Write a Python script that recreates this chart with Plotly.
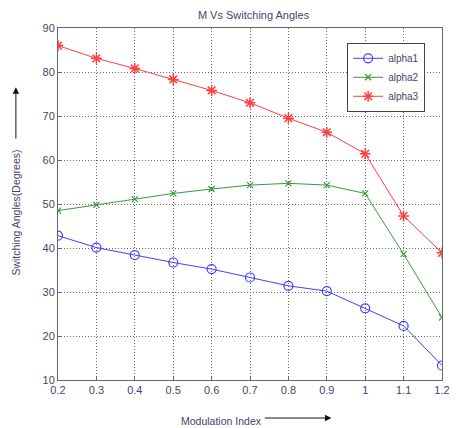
import plotly.graph_objects as go

# Modulation index values and the three switching angles (degrees)
modulation_index = [0.2, 0.3, 0.4, 0.5, 0.6, 0.7, 0.8, 0.9, 1.0, 1.1, 1.2]
alpha1 = [42.8, 40.1, 38.4, 36.7, 35.2, 33.3, 31.4, 30.2, 26.3, 22.3, 13.3]
alpha2 = [48.5, 49.8, 51.1, 52.4, 53.4, 54.3, 54.7, 54.3, 52.4, 38.6, 24.2]
alpha3 = [86.0, 83.1, 80.8, 78.3, 75.8, 73.0, 69.5, 66.3, 61.4, 47.3, 38.9]

x_tick_vals = [0.2, 0.3, 0.4, 0.5, 0.6, 0.7, 0.8, 0.9, 1.0, 1.1, 1.2]
x_tick_text = ["0.2", "0.3", "0.4", "0.5", "0.6", "0.7", "0.8", "0.9", "1", "1.1", "1.2"]
y_tick_vals = [10, 20, 30, 40, 50, 60, 70, 80, 90]

FONT = "Liberation Sans, Arial, sans-serif"
TEXT_COLOR = "#4a3f6b"

fig = go.Figure()
fig.add_trace(go.Scatter(
    x=modulation_index, y=alpha1, name="alpha1", mode="lines+markers",
    line=dict(color="#4040ff", width=1),
    marker=dict(symbol="circle-open", size=9, color="#4040ff", line=dict(width=1.2)),
))
fig.add_trace(go.Scatter(
    x=modulation_index, y=alpha2, name="alpha2", mode="lines+markers",
    line=dict(color="#3a9a3a", width=1),
    marker=dict(symbol="x-thin-open", size=6, color="#3a9a3a", line=dict(width=1.2, color="#3a9a3a")),
))
fig.add_trace(go.Scatter(
    x=modulation_index, y=alpha3, name="alpha3", mode="lines+markers",
    line=dict(color="#ff4040", width=1),
    marker=dict(symbol="asterisk-open", size=9, color="#ff4040", line=dict(width=1.5, color="#ff4040")),
))

axis_common = dict(
    showgrid=True, gridcolor="#666666", griddash="1px,2px", gridwidth=1,
    showline=True, linecolor="#666666", linewidth=1, mirror=True,
    ticks="inside", ticklen=4, tickcolor="#666666",
    zeroline=False, ticklabeloverflow="allow",
    tickfont=dict(family=FONT, size=11, color=TEXT_COLOR),
)

fig.update_layout(
    width=456, height=428,
    margin=dict(l=58, r=6, t=28, b=48),
    paper_bgcolor="white", plot_bgcolor="white",
    showlegend=True,
    legend=dict(
        x=0.753, y=0.958, xanchor="left", yanchor="top",
        bgcolor="white", bordercolor="#444444", borderwidth=1,
        font=dict(family=FONT, size=10, color=TEXT_COLOR),
        itemwidth=30, tracegroupgap=0,
    ),
    title=dict(
        text="M Vs Switching Angles", x=0.556, xanchor="center", y=0.965, yanchor="middle",
        font=dict(family=FONT, size=11, color=TEXT_COLOR),
    ),
)
fig.update_xaxes(range=[0.2, 1.2], tickvals=x_tick_vals, ticktext=x_tick_text, **axis_common)
fig.update_yaxes(range=[10, 90], tickvals=y_tick_vals, **axis_common)

# Axis titles with direction arrows
fig.add_annotation(
    text="Modulation Index", xref="paper", yref="paper", x=0.427, y=-0.117,
    xanchor="center", yanchor="middle",
    showarrow=False, font=dict(family=FONT, size=10.5, color=TEXT_COLOR),
)
fig.add_annotation(
    text="", xref="paper", yref="paper", x=0.712, y=-0.108,
    showarrow=True, axref="pixel", ayref="pixel", ax=-68, ay=0,
    arrowhead=2, arrowsize=1.3, arrowwidth=1, arrowcolor="#111111",
)
fig.add_annotation(
    text="Switching Angles(Degrees)", xref="paper", yref="paper", x=-0.11, y=0.475,
    xanchor="center", yanchor="middle",
    textangle=-90, showarrow=False, font=dict(family=FONT, size=10.5, color=TEXT_COLOR),
)
fig.add_annotation(
    text="", xref="paper", yref="paper", x=-0.1097, y=0.832,
    showarrow=True, axref="pixel", ayref="pixel", ax=0, ay=53,
    arrowhead=2, arrowsize=1.3, arrowwidth=1, arrowcolor="#111111",
)

fig.write_html("out.html")
